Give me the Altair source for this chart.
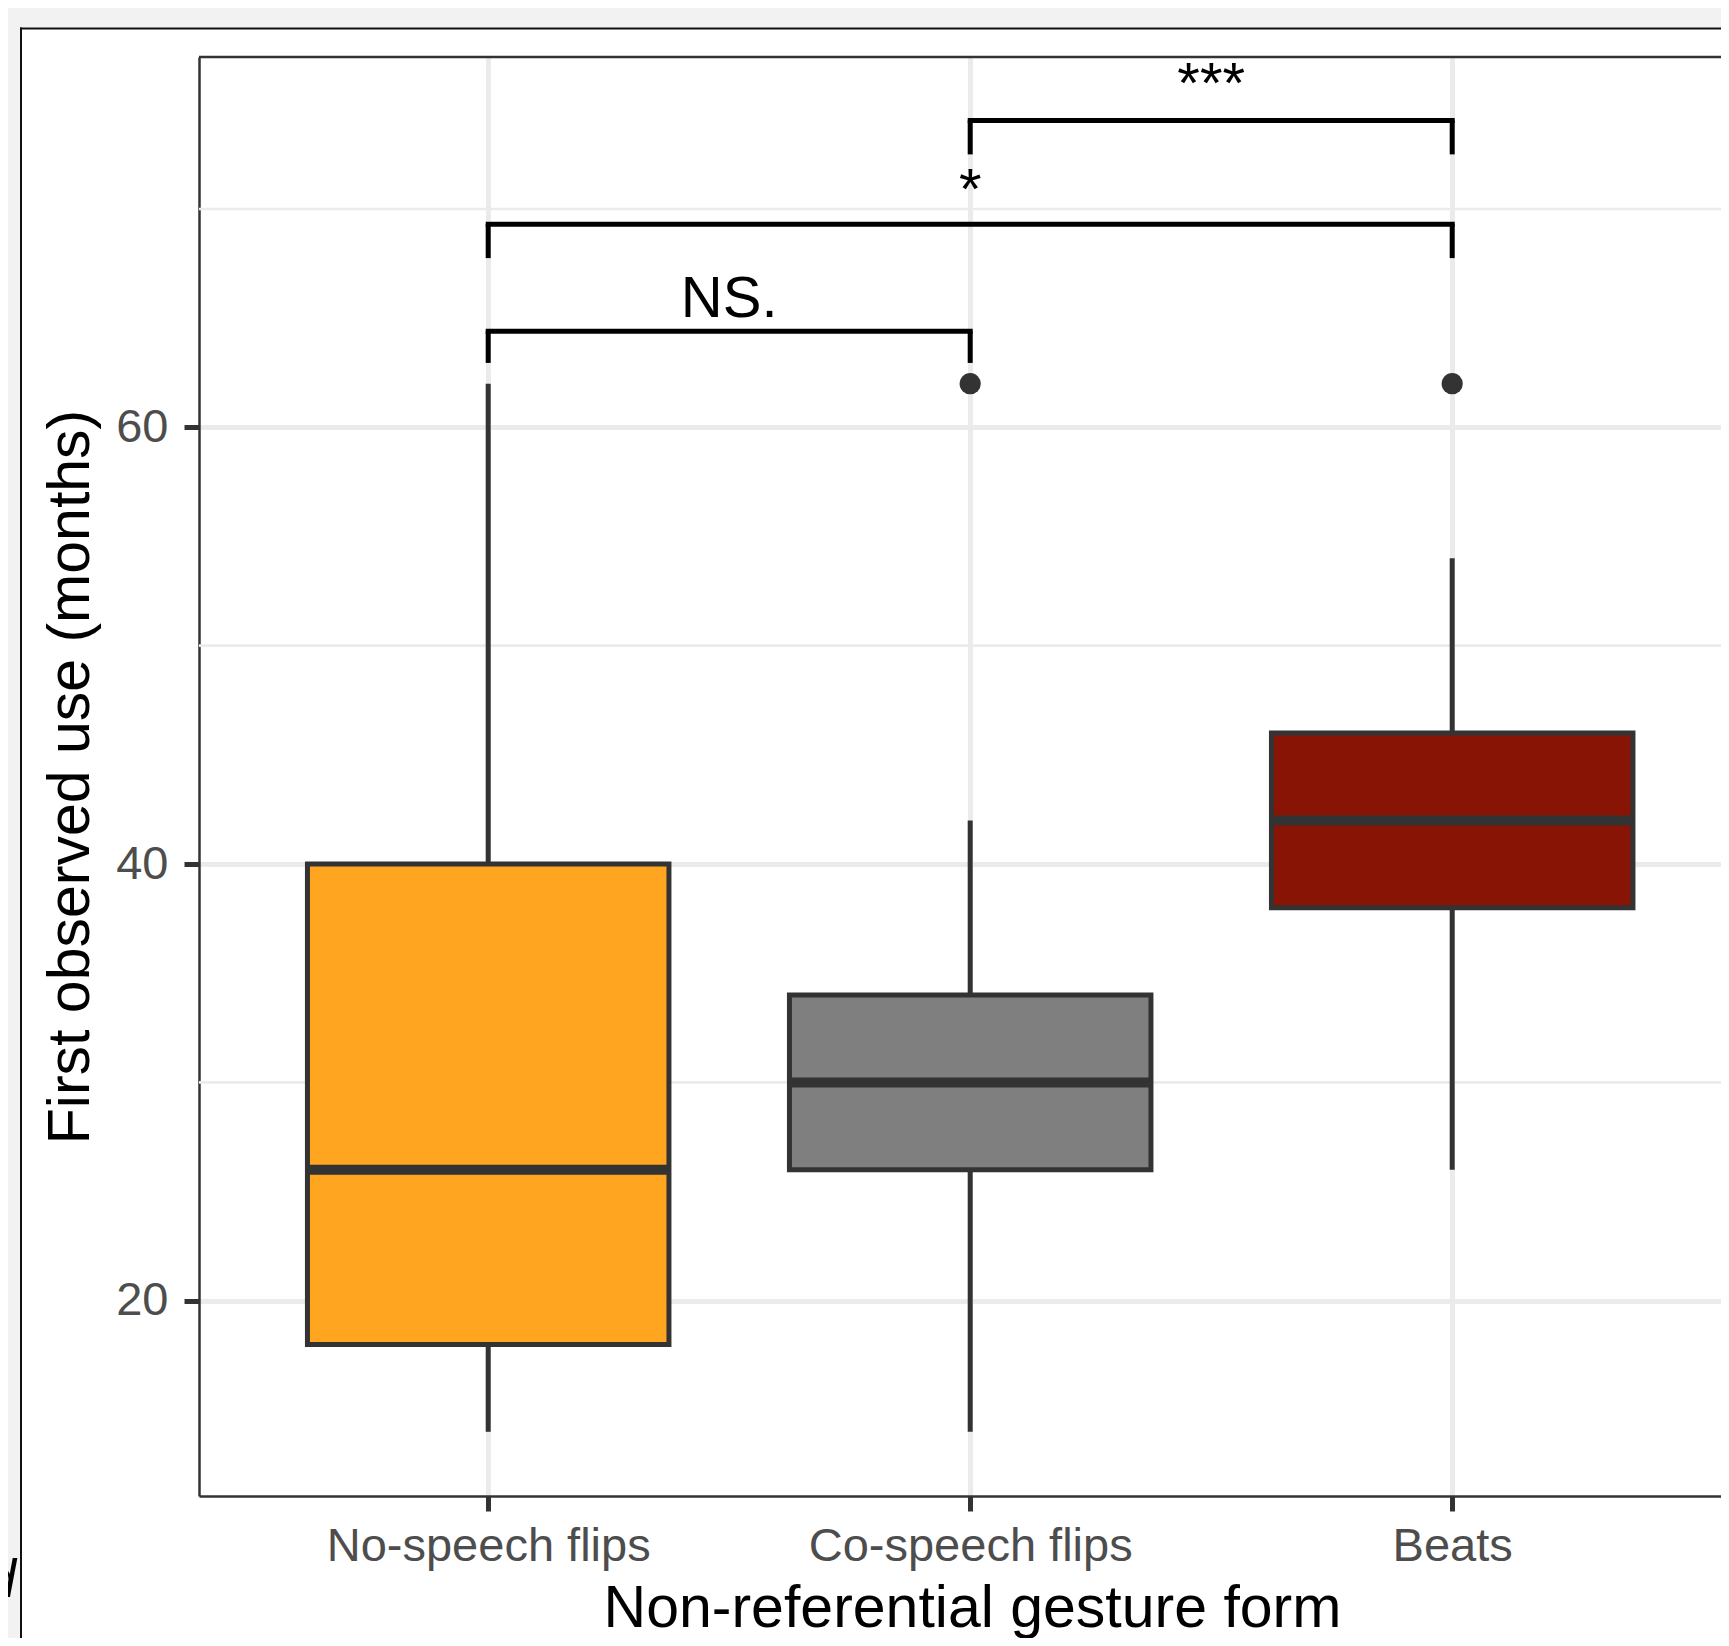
import altair as alt
import pandas as pd

# ---------------- data ----------------
categories = ["No-speech flips", "Co-speech flips", "Beats"]
positions = [1, 2, 3]
whisker_low = [14, 14, 26]
q1 = [18, 26, 38]
median = [26, 30, 42]
q3 = [40, 34, 46]
whisker_high = [62, 42, 54]
fills = ["#FFA51F", "#7F7F7F", "#881405"]

outlier_pos = [2, 3]
outlier_val = [62, 62]

bracket_from = [1, 1, 2]
bracket_to = [2, 3, 3]
bracket_y = [64.4, 69.3, 74.05]
bracket_tip = [62.95, 67.75, 72.5]
bracket_label = ["NS.", "*", "***"]
bracket_label_y = [65.07, 70.0, 74.86]

y_ticks = [20, 40, 60]
y_minor = [30, 50, 70]

# ---------------- layout ----------------
W, H = 1522, 1439
PAD = {"left": 191, "top": 49, "right": 0, "bottom": 142}
X_DOMAIN = [0.4, 0.4 + W / 482.0]
Y_DOMAIN = [11.06, 76.96]
BOX_HALF = 0.375
FONT = "Liberation Sans"
DARK = "#333333"
GRID = "#ebebeb"

boxes = pd.DataFrame({
    "cat": categories, "pos": positions, "lo": whisker_low, "q1": q1,
    "med": median, "q3": q3, "hi": whisker_high, "fill": fills,
})
boxes["left"] = boxes["pos"] - BOX_HALF
boxes["right"] = boxes["pos"] + BOX_HALF

outliers = pd.DataFrame({"pos": outlier_pos, "val": outlier_val})

h_rows, v_rows = [], []
for a, b, y, t in zip(bracket_from, bracket_to, bracket_y, bracket_tip):
    h_rows.append({"x": a, "x2": b, "y": y})
    v_rows.append({"x": a, "y": t, "y2": y})
    v_rows.append({"x": b, "y": t, "y2": y})
br_h = pd.DataFrame(h_rows)
br_v = pd.DataFrame(v_rows)
labels = pd.DataFrame({
    "x": [(a + b) / 2 for a, b in zip(bracket_from, bracket_to)],
    "y": bracket_label_y, "t": bracket_label,
})
minor = pd.DataFrame({"v": y_minor})
one = pd.DataFrame({"k": [0]})

label_expr = " : ".join(
    f"datum.value == {p} ? '{c}'" for p, c in zip(positions[:-1], categories[:-1])
) + f" : '{categories[-1]}'"

xscale = alt.Scale(domain=X_DOMAIN, nice=False, zero=False)
yscale = alt.Scale(domain=Y_DOMAIN, nice=False, zero=False)

xaxis = alt.Axis(
    values=positions, labelExpr=label_expr, title="Non-referential gesture form",
    grid=True, gridColor=GRID, gridWidth=5,
    ticks=True, tickSize=15, tickWidth=5, tickColor=DARK,
    domain=True, domainColor=DARK, domainWidth=2.5,
    labelFont=FONT, labelFontSize=47, labelColor="#4d4d4d", labelLimit=0,
    labelPadding=49, labelBaseline="alphabetic", labelFlush=False, labelOverlap=False,
    titleFont=FONT, titleFontSize=59, titleColor="black", titleFontWeight="normal",
    titleX=773, titleY=130, titleBaseline="alphabetic", titleAlign="center",
    titleLimit=0,
)
yaxis = alt.Axis(
    values=y_ticks, title="First observed use (months)",
    grid=True, gridColor=GRID, gridWidth=5,
    ticks=True, tickSize=15, tickWidth=5, tickColor=DARK,
    domain=True, domainColor=DARK, domainWidth=2.5,
    labelFont=FONT, labelFontSize=47, labelColor="#4d4d4d", labelLimit=0,
    labelPadding=16, labelBaseline="middle", labelFlush=False, labelOverlap=False,
    titleFont=FONT, titleFontSize=59, titleColor="black", titleFontWeight="normal",
    titleAngle=270, titleX=-111, titleY=H / 2, titleBaseline="alphabetic",
    titleAlign="center", titleLimit=0,
)


def X(field):
    return alt.X(field, type="quantitative", scale=xscale, axis=xaxis)


def Y(field):
    return alt.Y(field, type="quantitative", scale=yscale, axis=yaxis)


minor_grid = alt.Chart(minor).mark_rule(color=GRID, strokeWidth=2.7).encode(
    y=Y("v"), x=alt.value(0), x2=alt.value(W + 20)
)

whisk_low = alt.Chart(boxes).mark_rule(color=DARK, strokeWidth=5).encode(
    x=X("pos"), y=Y("lo"), y2="q1"
)
whisk_high = alt.Chart(boxes).mark_rule(color=DARK, strokeWidth=5).encode(
    x=X("pos"), y=Y("q3"), y2="hi"
)
box = alt.Chart(boxes).mark_rect(stroke=DARK, strokeWidth=5).encode(
    x=X("left"), x2="right", y=Y("q1"), y2="q3",
    fill=alt.Fill("fill:N", scale=None),
)
med = alt.Chart(boxes).mark_rule(color=DARK, strokeWidth=10, strokeCap="butt").encode(
    x=X("left"), x2="right", y=Y("med")
)
pts = alt.Chart(outliers).mark_circle(size=450, color=DARK, opacity=1).encode(
    x=X("pos"), y=Y("val")
)
brh = alt.Chart(br_h).mark_rule(color="black", strokeWidth=5, strokeCap="square").encode(
    x=X("x"), x2="x2", y=Y("y")
)
brv = alt.Chart(br_v).mark_rule(color="black", strokeWidth=5, strokeCap="butt").encode(
    x=X("x"), y=Y("y"), y2="y2"
)
txt = alt.Chart(labels).mark_text(
    font=FONT, fontSize=58, color="black", baseline="alphabetic", align="center"
).encode(x=X("x"), y=Y("y"), text="t:N")

top_border = alt.Chart(one).mark_rule(color=DARK, strokeWidth=2.5).encode(
    x=alt.value(0), x2=alt.value(W + 20), y=alt.value(0)
)

# page decoration: grey surround and the frame of the figure card
grey_top = alt.Chart(one).mark_rect(color="#f2f2f2").encode(
    x=alt.value(-PAD["left"]), x2=alt.value(W + 20), y=alt.value(-PAD["top"]),
    y2=alt.value(-29.5)
)
grey_left = alt.Chart(one).mark_rect(color="#f2f2f2").encode(
    x=alt.value(-PAD["left"]), x2=alt.value(-179), y=alt.value(-PAD["top"]),
    y2=alt.value(H + PAD["bottom"])
)
card_top = alt.Chart(one).mark_rule(color="#111111", strokeWidth=2).encode(
    x=alt.value(-179), x2=alt.value(W + 20), y=alt.value(-28.5)
)
card_left = alt.Chart(one).mark_rule(color="#111111", strokeWidth=2).encode(
    x=alt.value(-178), y=alt.value(-29.5), y2=alt.value(H + PAD["bottom"])
)
cut_text = alt.Chart(pd.DataFrame({"t": ["d"]})).mark_text(
    font=FONT, fontSize=53, fontStyle="italic", color="black",
    align="right", baseline="alphabetic"
).encode(x=alt.value(-183), y=alt.value(1540), text="t:N")

chart = alt.layer(
    minor_grid, whisk_low, whisk_high, box, med, pts, brh, brv, txt, top_border,
    grey_top, grey_left, card_top, card_left, cut_text,
).properties(
    width=W, height=H, padding=PAD, autosize=alt.AutoSizeParams(type="none"),
).configure(background="white").configure_view(strokeWidth=0, stroke="transparent")

chart.save("out.html", embed_options={"renderer": "svg", "actions": False})
